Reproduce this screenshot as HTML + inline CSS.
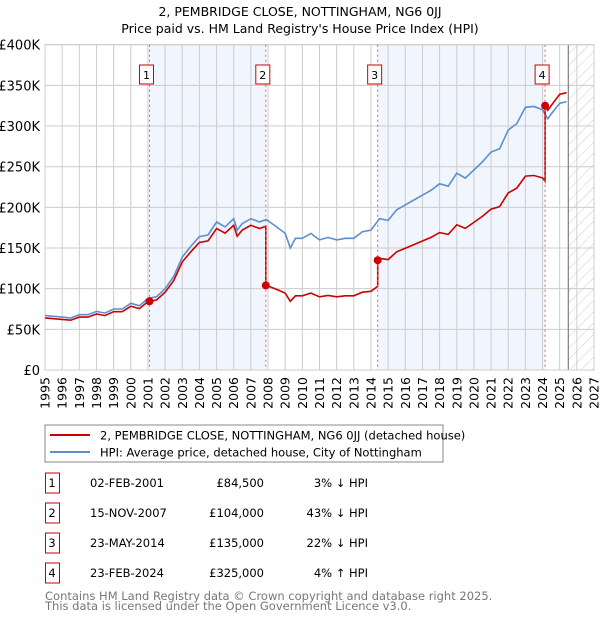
<!DOCTYPE html>
<html><head><meta charset="utf-8"><style>
body{margin:0;background:#fff;font-family:"Liberation Sans","DejaVu Sans",sans-serif;}
svg text{font-family:"DejaVu Sans","Liberation Sans",sans-serif;}
</style></head><body>
<svg id="c" width="600" height="620" xmlns="http://www.w3.org/2000/svg">
<defs><pattern id="hatch" width="8" height="8" patternUnits="userSpaceOnUse" patternTransform="rotate(45)"><line x1="0" y1="0" x2="0" y2="8" stroke="#ccc" stroke-width="1"/></pattern></defs>
<text x="300" y="16" text-anchor="middle" font-size="12.5">2, PEMBRIDGE CLOSE, NOTTINGHAM, NG6 0JJ</text>
<text x="300" y="33" text-anchor="middle" font-size="12.5">Price paid vs. HM Land Registry's House Price Index (HPI)</text>
<g id="plot"></g>
<rect x="45" y="425" width="398" height="37" fill="#fff" stroke="#888"/>
<line x1="50" y1="435" x2="90" y2="435" stroke="#cc0000" stroke-width="2"/>
<text x="100" y="439.5" font-size="11.5">2, PEMBRIDGE CLOSE, NOTTINGHAM, NG6 0JJ (detached house)</text>
<line x1="50" y1="452" x2="90" y2="452" stroke="#5b8fd0" stroke-width="2"/>
<text x="100" y="456.5" font-size="11.5">HPI: Average price, detached house, City of Nottingham</text>
<g id="table" font-size="11.5"></g>
<text x="45" y="600" font-size="11.5" fill="#777">Contains HM Land Registry data © Crown copyright and database right 2025.</text>
<text x="45" y="610" font-size="11.5" fill="#777">This data is licensed under the Open Government Licence v3.0.</text>
</svg>
<script>
const hpiYears=[1995,1995.5,1996,1996.5,1997,1997.5,1998,1998.5,1999,1999.5,2000,2000.5,2001,2001.5,2002,2002.5,2003,2003.5,2004,2004.5,2005,2005.5,2006,2006.2,2006.5,2007,2007.5,2007.9,2008.5,2009,2009.3,2009.6,2010,2010.5,2011,2011.5,2012,2012.5,2013,2013.5,2014,2014.5,2015,2015.5,2016,2016.5,2017,2017.5,2018,2018.5,2019,2019.5,2020,2020.5,2021,2021.5,2022,2022.5,2023,2023.5,2024,2024.3,2024.7,2025,2025.4];
const hpiValues=[67,66,65,64,68,68,72,70,75,75,82,79,88,90,100,115,139,152,164,166,182,176,186,172,180,186,182,185,176,168,150,162,162,168,160,163,160,162,162,170,172,186,184,197,203,209,215,221,229,226,242,236,246,256,268,272,295,303,323,324,320,309,320,328,330];
const saleLabels=["1","2","3","4"];
const saleYears=[2001.09,2007.87,2014.39,2024.15];
const salePrices=[84500,104000,135000,325000];
const saleDates=["02-FEB-2001","15-NOV-2007","23-MAY-2014","23-FEB-2024"];
const salePriceText=["£84,500","£104,000","£135,000","£325,000"];
const saleHpiText=["3% ↓ HPI","43% ↓ HPI","22% ↓ HPI","4% ↑ HPI"];
const yTicks=[0,50,100,150,200,250,300,350,400];
const yTickLabels=["£0","£50K","£100K","£150K","£200K","£250K","£300K","£350K","£400K"];
const xTicks=[1995,1996,1997,1998,1999,2000,2001,2002,2003,2004,2005,2006,2007,2008,2009,2010,2011,2012,2013,2014,2015,2016,2017,2018,2019,2020,2021,2022,2023,2024,2025,2026,2027];
const forecastStart=2025.5;

const L=45,R=594,T=44.7,B=370;
const X=y=>L+(y-1995)/(2027-1995)*(R-L);
const Y=v=>B-v/400*(B-T);
const NS="http://www.w3.org/2000/svg";
const plot=document.getElementById('plot');
function mk(tag,at,parent){const e=document.createElementNS(NS,tag);for(const k in at)e.setAttribute(k,at[k]);(parent||plot).appendChild(e);return e;}
function hpiAt(y){for(let i=0;i<hpiYears.length-1;i++){if(y<=hpiYears[i+1]){const t=(y-hpiYears[i])/(hpiYears[i+1]-hpiYears[i]);return hpiValues[i]+t*(hpiValues[i+1]-hpiValues[i]);}}return hpiValues[hpiValues.length-1];}

let bg=mk('rect',{x:L,y:T,width:R-L,height:B-T,fill:'#fff'});


for(const [a,b] of [[0,1],[2,3]]){
  const r=mk('rect',{x:X(saleYears[a]),y:T,width:X(saleYears[b])-X(saleYears[a]),height:B-T,fill:'#eef3fc',opacity:0.8});
  
  
}
const hz=mk('rect',{x:X(forecastStart),y:T,width:R-X(forecastStart),height:B-T,fill:'url(#hatch)'});


yTicks.forEach((v,i)=>{
  const g=mk('line',{x1:L,x2:R,y1:Y(v),y2:Y(v),stroke:'#ccc'});
  
  
  const t=mk('text',{x:40,y:Y(v)+5,'text-anchor':'end','font-size':'13'});t.textContent=yTickLabels[i];
  
  
});
xTicks.forEach(y=>{
  const g=mk('line',{x1:X(y),x2:X(y),y1:T,y2:B,stroke:'#ccc'});
  
  
  const tx=X(y)+4.5,ty=377;
  const t=mk('text',{x:tx,y:ty,'text-anchor':'end','font-size':'12.5',transform:`rotate(-90 ${tx} ${ty})`});t.textContent=y;
  
  
});
const fl=mk('line',{x1:X(forecastStart),x2:X(forecastStart),y1:T,y2:B,stroke:'#666'});


const fr=mk('rect',{x:L,y:T,width:R-L,height:B-T,fill:'none',stroke:'#ccc'});



let d=hpiYears.map((y,i)=>(i?'L':'M')+X(y).toFixed(1)+','+Y(hpiValues[i]).toFixed(1)).join('');
const hl=mk('path',{d:d,fill:'none',stroke:'#5b8fd0','stroke-width':1.6});



let pts=[];
const firstRatio=(salePrices[0]/1000)/hpiAt(saleYears[0]);
hpiYears.forEach((y,i)=>{
  let k=-1;for(let j=0;j<saleYears.length;j++)if(y>=saleYears[j])k=j;
  const ratio=k<0?firstRatio:(salePrices[k]/1000)/hpiAt(saleYears[k]);
  if(i>0){const py=hpiYears[i-1];saleYears.forEach((s,j)=>{if(s>py&&s<=y){const pr=j===0?firstRatio:(salePrices[j-1]/1000)/hpiAt(saleYears[j-1]);pts.push([s,hpiAt(s)*pr]);pts.push([s,salePrices[j]/1000]);}});}
  pts.push([y,hpiValues[i]*ratio]);
});
d=pts.map((p,i)=>(i?'L':'M')+X(p[0]).toFixed(1)+','+Y(p[1]).toFixed(1)).join('');
const rl=mk('path',{d:d,fill:'none',stroke:'#cc0000','stroke-width':1.6});



saleYears.forEach((s,i)=>{
  const v=mk('line',{x1:X(s),x2:X(s),y1:T,y2:B,stroke:'#e06060','stroke-dasharray':'2,3'});
  
  
  const c=mk('circle',{cx:X(s),cy:Y(salePrices[i]/1000),r:4,fill:'#cc0000'});
  
  
  const bx=mk('rect',{x:X(s)-10,y:65,width:14,height:19,fill:'#fff',stroke:'#cc0000'});
  
  
  const t=mk('text',{x:X(s)-3,y:79,'text-anchor':'middle','font-size':'11'});t.textContent=saleLabels[i];
  
  
});

const tb=document.getElementById('table');
saleLabels.forEach((lab,i)=>{
  const cy=483+i*30;
  const b=mk('rect',{x:45.5,y:cy-10,width:14,height:20,fill:'#fff',stroke:'#cc0000'},tb);
  
  
  const cells=[[52,'middle',lab],[90,'start',saleDates[i]],[264,'end',salePriceText[i]],[368,'end',saleHpiText[i]]];
  cells.forEach(([x,a,s])=>{const t=mk('text',{x:x,y:cy+4,'text-anchor':a},tb);t.textContent=s;
    
    });
});
</script>
</body></html>
